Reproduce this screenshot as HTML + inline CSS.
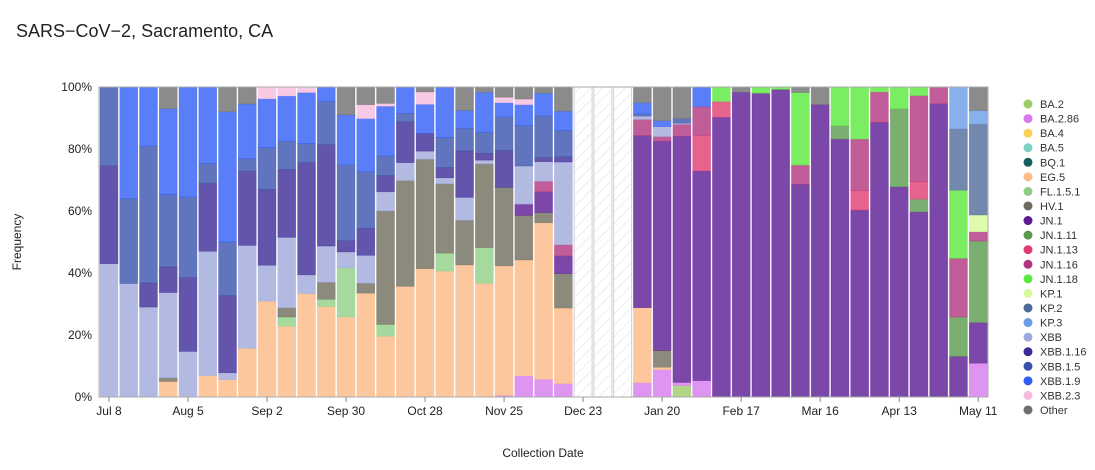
<!DOCTYPE html>
<html><head><meta charset="utf-8"><style>
body{margin:0;background:#fff;font-family:"Liberation Sans",sans-serif;}
svg text{font-family:"Liberation Sans",sans-serif;}
</style></head><body>
<svg id="chart" width="1095" height="465" xmlns="http://www.w3.org/2000/svg">
<defs><pattern id="hatch" patternUnits="userSpaceOnUse" width="8" height="8" patternTransform="rotate(45)"><line x1="0" y1="0" x2="0" y2="8" stroke="#dcdce4" stroke-width="1"/></pattern></defs>
<text x="16" y="37" font-size="18" fill="#222">SARS−CoV−2, Sacramento, CA</text>
<text transform="translate(21,242) rotate(-90)" text-anchor="middle" font-size="12" fill="#222">Frequency</text>
<text x="543" y="457" text-anchor="middle" font-size="12" fill="#222">Collection Date</text>
<g id="plot"></g>
<g id="legend"></g>
</svg>
<script>
const weeksTotal = 45;
const xTickLabels = ["Jul 8","Aug 5","Sep 2","Sep 30","Oct 28","Nov 25","Dec 23","Jan 20","Feb 17","Mar 16","Apr 13","May 11"];
const xTickIndex = [0,4,8,12,16,20,24,28,32,36,40,44];
const yTicks = [0,20,40,60,80,100];
const missingWeeks = [24,25,26];
const lineages = ["BA.2","BA.2.86","BA.4","BA.5","BQ.1","EG.5","FL.1.5.1","HV.1","JN.1","JN.1.11","JN.1.13","JN.1.16","JN.1.18","KP.1","KP.2","KP.3","XBB","XBB.1.16","XBB.1.5","XBB.1.9","XBB.2.3","Other"];
const colors = ["#9dcc6a","#d67aee","#fdd05a","#7dd0c4","#165e5c","#fdb986","#8fcf85","#6f6b5c","#5a1a94","#5a9a4e","#e03c70","#b0357f","#5ae83c","#d6fb9a","#4f6a9a","#6a9ce8","#a0a9db","#3b2a96","#3a52ae","#2f5ef5","#f5bcdf","#6e6e6e"];
const vBA2   = [0,0,0,0,0,0,0,0,0,0,0,0,0,0,0,0,0,0,0,0,0,0,0,0,0,0,0,0,0,3.7,0,0,0,0,0,0,0,0,0,0,0,0,0,0,0];
const vBA286 = [0,0,0,0,0,0,0,0,0,0,0,0,0,0,0,0,0,0,0,0,0.5,6.8,5.7,4.3,0,0,0,4.6,8.8,1,5.3,0,0,0,0,0,0,0,0,0,0,0,0,0,10.9];
const vBA4   = [0,0,0,0,0,0,0,0,0,0,0,0,0,0,0,0,0,0,0,0,0,0,0,0,0,0,0,0,0,0,0,0,0,0,0,0,0,0,0,0,0,0,0,0,0];
const vBA5   = [0,0,0,0,0,0,0,0,0,0,0,0,0,0,0,0,0,0,0,0,0,0,0,0,0,0,0,0,0,0,0,0,0,0,0,0,0,0,0,0,0,0,0,0,0];
const vBQ1   = [0,0,0,0,0,0,0,0,0,0,0,0,0,0,0,0,0,0,0,0,0,0,0,0,0,0,0,0,0,0,0,0,0,0,0,0,0,0,0,0,0,0,0,0,0];
const vEG5   = [0,0,0,5,0,6.9,5.6,15.7,30.9,22.8,33.3,29.2,25.8,33.5,19.6,35.7,41.4,40.6,42.6,36.7,41.8,37.4,50.5,24.4,0,0,0,24.2,0.8,0,0,0,0,0,0,0,0,0,0,0,0,0,0,0,0];
const vFL151 = [0,0,0,0,0,0,0,0,0,3,0,2.3,15.9,0,3.8,0,0,5.8,0,11.5,0,0,0,0,0,0,0,0,0,0,0,0,0,0,0,0,0,0,0,0,0,0,0,0,0];
const vHV1   = [0,0,0,1.2,0,0,0,0,0,3,0,5.5,0,3.2,36.6,34.1,35.3,22.4,14.4,27,25.3,14.4,3.3,11.1,0,0,0,0,5.4,0,0,0,0,0,0,0,0,0,0,0,0,0,0,0,0];
const vJN1   = [0,0,0,0,0,0,0,0,0,0,0,0,0,0,0,0,0,0,0,0,0,3.6,6.7,5.7,0,0,0,55.5,67.5,79.4,67.6,90.2,98.3,98,99.2,68.6,94.3,83.2,60.3,88.6,67.8,59.7,94.6,13.1,13.1];
const vJN111 = [0,0,0,0,0,0,0,0,0,0,0,0,0,0,0,0,0,0,0,0,0,0,0,0,0,0,0,0,0,0,0,0,0,0,0,0,0,4.3,0,0,25.2,4.1,0,12.7,26.3];
const vJN113 = [0,0,0,0,0,0,0,0,0,0,0,0,0,0,0,0,0,0,0,0,0,0,0,0,0,0,0,0,0,0,11.5,5.1,0,0,0,0,0,0,6.3,0,0,5.7,0,0,0];
const vJN116 = [0,0,0,0,0,0,0,0,0,0,0,0,0,0,0,0,0,0,0,0,0,0,3.4,3.6,0,0,0,5.2,1.5,3.8,9.2,0,0,0,0,6.2,0,0,16.6,9.8,0,27.7,5.4,18.9,3];
const vJN118 = [0,0,0,0,0,0,0,0,0,0,0,0,0,0,0,0,0,0,0,0,0,0,0,0,0,0,0,0,0,0,0,4.7,0,2,0.8,23.4,0,12.5,16.8,1.6,7,2.8,0,22,0];
const vKP1   = [0,0,0,0,0,0,0,0,0,0,0,0,0,0,0,0,0,0,0,0,0,0,0,0,0,0,0,0,0,0,0,0,0,0,0,0,0,0,0,0,0,0,0,0,5.4];
const vKP2   = [0,0,0,0,0,0,0,0,0,0,0,0,0,0,0,0,0,0,0,0,0,0,0,0,0,0,0,0,0,0,0,0,0,0,0,0,0,0,0,0,0,0,0,19.8,29.3];
const vKP3   = [0,0,0,0,0,0,0,0,0,0,0,0,0,0,0,0,0,0,0,0,0,0,0,0,0,0,0,0,0,0,0,0,0,0,0,0,0,0,0,0,0,0,0,13.5,4.4];
const vXBB   = [43,36.6,29,27.5,14.7,40.1,2.2,33.2,11.6,22.7,6.1,11.7,5.1,9,6.2,5.8,2.6,1.9,7.4,1.2,0,12.3,6.3,26.7,0,0,0,1.1,3.2,0.4,0,0,0,0,0,0,0,0,0,0,0,0,0,0,0];
const vXBB116= [31.6,0,7.8,8.3,23.8,22,24.9,23.9,24.5,21.9,36.2,32.7,3.6,8.7,5.2,13.2,5.7,3.3,15,2.2,11.9,0,1.3,1.7,0,0,0,0,0,0,0,0,0,0,0,0,0,0,0,0,0,0,0,0,0];
const vXBB15 = [25.4,27.4,44.2,23.3,26,6.3,17.3,4.1,13.5,9.1,6.2,14,24.5,18.3,6.4,2.7,0,9.7,7.3,6.8,10.9,13.1,13.5,8.5,0,0,0,0.8,0,1.5,0,0,0,0,0,0,0,0,0,0,0,0,0,0,0];
const vXBB19 = [0,36,19,27.7,35.5,24.7,42,17.6,15.7,14.6,16.4,4.6,16.1,17.1,16,8.5,9.4,16.3,5.7,12.9,4.5,6.7,7.3,6.2,0,0,0,3.5,1.9,0,6.4,0,0,0,0,0,0,0,0,0,0,0,0,0,0];
const vXBB23 = [0,0,0,0,0,0,0,0,3.8,2.9,1.8,0,0,4.5,0.9,0,4,0,0,0,1.8,1.8,0,0,0,0,0,0,0,0,0,0,0,0,0,0,0,0,0,0,0,0,0,0,0];
const vOther = [0,0,0,7,0,0,8,5.5,0,0,0,0,9,5.7,5.3,0,1.6,0,7.6,1.7,3.3,3.9,2,7.8,0,0,0,5.1,10.9,10.2,0,0,1.7,0,0,1.8,5.7,0,0,0,0,0,0,0,7.6];
const seriesValues = [vBA2,vBA286,vBA4,vBA5,vBQ1,vEG5,vFL151,vHV1,vJN1,vJN111,vJN113,vJN116,vJN118,vKP1,vKP2,vKP3,vXBB,vXBB116,vXBB15,vXBB19,vXBB23,vOther];

const NS="http://www.w3.org/2000/svg";
const L=99,R=988,T=87,B=397;
const step=(R-L)/weeksTotal;
function xPos(i){return L+1+i*step;}
function yPos(p){return B-(p/100)*(B-T);}
function mk(tag,attrs,parent){const e=document.createElementNS(NS,tag);for(const k in attrs)e.setAttribute(k,attrs[k]);parent.appendChild(e);return e;}
const plot=document.getElementById('plot');
const bw=step-1.8;
for(let i=0;i<weeksTotal;i++){
  if(missingWeeks.includes(i)){
    const h=mk('rect',{x:xPos(i),y:T,width:bw,height:B-T,fill:'url(#hatch)',stroke:'#cfcfd6','stroke-width':1},plot);
    
    
    continue;
  }
  let total=0;seriesValues.forEach(s=>total+=s[i]);
  let cum=0;
  seriesValues.forEach((s,k)=>{
    const v=s[i];if(!v)return;
    const y0=yPos(cum/total*100),y1=yPos((cum+v)/total*100);cum+=v;
    const r=mk('rect',{x:xPos(i),y:y1,width:bw,height:y0-y1,fill:colors[k],'fill-opacity':0.8,stroke:colors[k],'stroke-opacity':0.5,'stroke-width':0.6},plot);
    
    
  });
}
const frame=mk('rect',{x:L,y:T,width:R-L,height:B-T,fill:'none',stroke:'#aaa','stroke-width':1},plot);


yTicks.forEach(t=>{
  const tx=mk('text',{x:92,y:yPos(t)+4,'text-anchor':'end','font-size':12,fill:'#222'},plot);
  tx.textContent=t+'%';
  
  
});
xTickLabels.forEach((lab,j)=>{
  const cx=xPos(xTickIndex[j])+bw/2;
  const tk=mk('line',{x1:cx,x2:cx,y1:B,y2:B+5,stroke:'#888'},plot);
  
  
  const tx=mk('text',{x:cx,y:B+18,'text-anchor':'middle','font-size':12,fill:'#222'},plot);
  tx.textContent=lab;
  
  
});
const leg=document.getElementById('legend');
lineages.forEach((n,k)=>{
  const y=104+k*14.57;
  const g=mk('g',{},leg);
  
  
  mk('circle',{cx:1028,cy:y,r:4.5,fill:colors[k]},g);
  const t=mk('text',{x:1040,y:y+4,'font-size':11,fill:'#333'},g);
  t.textContent=n;
});
</script>
</body></html>
